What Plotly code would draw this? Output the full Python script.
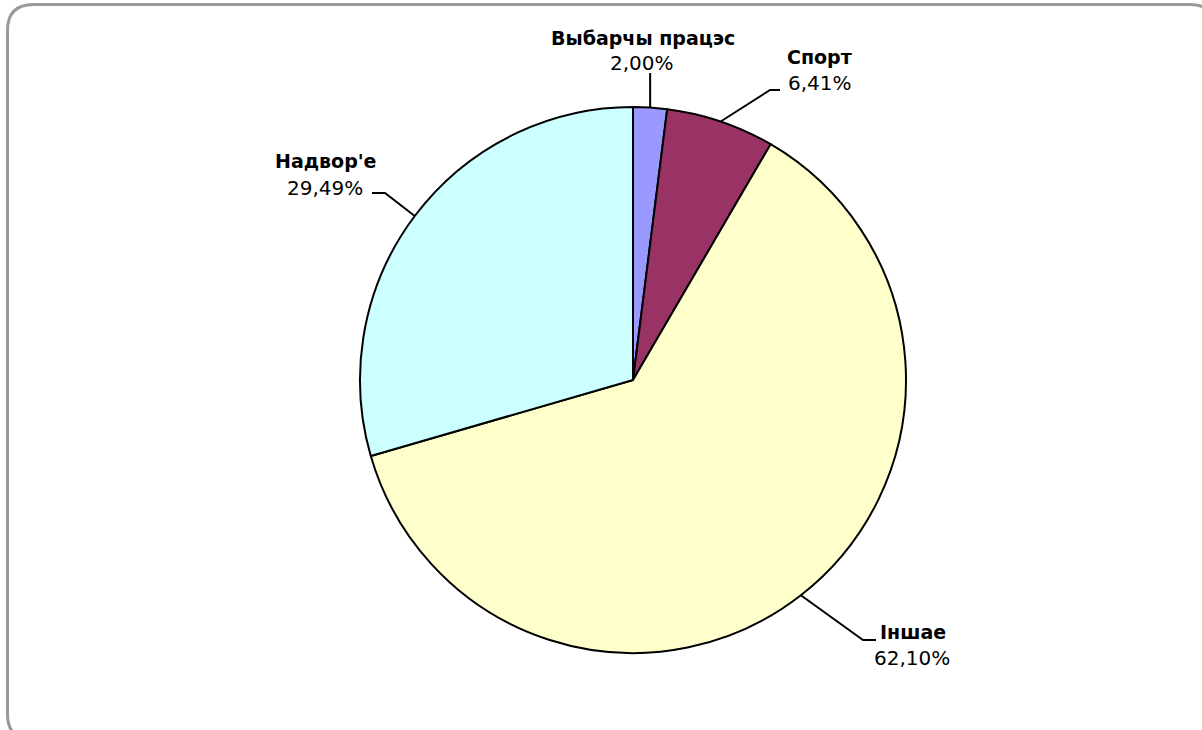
import numpy as np
import plotly.graph_objects as go

# ---- data ----
labels = ["Выбарчы працэс", "Спорт", "Іншае", "Надвор'е"]
values = [2.00, 6.41, 62.10, 29.49]
value_text = ["2,00%", "6,41%", "62,10%", "29,49%"]
colors = ["#9999FF", "#993366", "#FFFFCC", "#CCFFFF"]

W, H = 1202, 730
CX, CY, R = 633, 380, 273  # pie centre / radius in pixels

def px(x):
    return x / W

def py(y):
    return 1 - y / H

fig = go.Figure()
fig.add_trace(go.Pie(
    labels=labels, values=values, sort=False, direction="clockwise", rotation=0,
    marker=dict(colors=colors, line=dict(color="black", width=2)),
    textinfo="none", hoverinfo="label+percent", showlegend=False,
    domain=dict(x=[px(CX - R), px(CX + R)], y=[py(CY + R), py(CY - R)]),
))

# leader line start points computed from slice mid-angles
cum = np.cumsum(values) - np.array(values) / 2
ang = np.deg2rad(cum / np.sum(values) * 360)
sx = CX + R * np.sin(ang)
sy = CY - R * np.cos(ang)

# label layout: (elbow, end) of leader, label-centre, value-centre
layout_pts = [
    dict(elbow=None, end=(None, 73), lab=(643, 38), val=(642, 63)),
    dict(elbow=(770, 90), end=(780, 90), lab=(820, 57), val=(820, 83)),
    dict(elbow=(863, 640), end=(876, 640), lab=(913, 632), val=(912, 658)),
    dict(elbow=(385, 193), end=(372, 193), lab=(325, 161), val=(325, 188)),
]

shapes = []
annotations = []
FONT = "DejaVu Sans"
FS_LAB = 19
FS_VAL = 20
for i, lp in enumerate(layout_pts):
    pts = [(sx[i], sy[i])]
    if lp["elbow"] is not None:
        pts.append(lp["elbow"])
    ex, ey = lp["end"]
    if ex is None:
        ex = sx[i]
    pts.append((ex, ey))
    path = "M " + " L ".join(f"{px(x):.5f},{py(y):.5f}" for x, y in pts)
    shapes.append(dict(type="path", xref="paper", yref="paper", path=path,
                       line=dict(color="black", width=2)))
    annotations.append(dict(text=f"<b>{labels[i]}</b>", x=px(lp["lab"][0]), y=py(lp["lab"][1]),
                            xref="paper", yref="paper", xanchor="center", yanchor="middle",
                            showarrow=False, font=dict(family=FONT, size=FS_LAB, color="black")))
    annotations.append(dict(text=value_text[i], x=px(lp["val"][0]), y=py(lp["val"][1]),
                            xref="paper", yref="paper", xanchor="center", yanchor="middle",
                            showarrow=False, font=dict(family=FONT, size=FS_VAL, color="black")))

# rounded outer border (partly outside the visible area)
L, T, Rr, B, rad = 7.5, 4.5, 1216, 740, 26
border = (f"M {px(L)},{py(T + rad)} Q {px(L)},{py(T)} {px(L + rad)},{py(T)} "
          f"L {px(Rr - rad)},{py(T)} Q {px(Rr)},{py(T)} {px(Rr)},{py(T + rad)} "
          f"L {px(Rr)},{py(B - rad)} Q {px(Rr)},{py(B)} {px(Rr - rad)},{py(B)} "
          f"L {px(L + rad)},{py(B)} Q {px(L)},{py(B)} {px(L)},{py(B - rad)} Z")
shapes.append(dict(type="path", xref="paper", yref="paper", path=border,
                   line=dict(color="#999999", width=3)))

fig.update_layout(
    width=W, height=H, margin=dict(l=0, r=0, t=0, b=0),
    paper_bgcolor="white", plot_bgcolor="white",
    shapes=shapes, annotations=annotations,
)
fig.write_html("out.html", config={"displayModeBar": False},
               post_script="document.body.style.margin='0';document.body.style.overflow='hidden';")
